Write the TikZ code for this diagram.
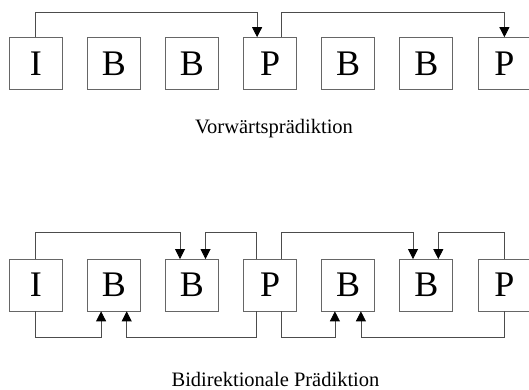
\documentclass[tikz,border=0pt]{standalone}
\usepackage{fontspec}
\setmainfont{Liberation Serif}
\usetikzlibrary{arrows.meta}
\tikzset{
  frame/.style={draw=black!60, line width=0.8pt, minimum width=53pt, minimum height=51.5pt,
    inner sep=0pt, font=\fontsize{36}{36}\selectfont, text=black},
  arr/.style={draw=black!70, line width=0.8pt, -{Triangle[length=10pt,width=10pt,fill=black,color=black]}},
  captext/.style={font=\fontsize{20.5}{22}\selectfont, text=black}
}
\begin{document}
\begin{tikzpicture}[x=1pt,y=-1pt]
\useasboundingbox[fill=white] (0,0) rectangle (529,390);
% levels
\coordinate (L1) at (0,12);
\coordinate (L2) at (0,232.7);
\coordinate (L3) at (0,337.6);
% boxes
\foreach \i/\t in {1/I,2/B,3/B,4/P,5/B,6/B,7/P}{
  \node[frame] (t\i) at ({35.8+78.1*(\i-1)},63.3) {\t};
  \node[frame] (b\i) at ({35.8+78.1*(\i-1)},285.2) {\t};
}
\node[captext] (c1) at (274,129) {Vorwärtsprädiktion};
\node[captext] (c2) at (275.5,379) {Bidirektionale Prädiktion};
% top connectors
\coordinate (t4a) at ([xshift=-13pt]t4.north);
\coordinate (t4b) at ([xshift=11.5pt]t4.north);
\draw[arr] (t1.north) -- (t1.north |- L1) -| (t4a);
\draw[arr] (t4b) -- (t4b |- L1) -| (t7.north);
% bottom connectors
\coordinate (b3a) at ([xshift=-12pt]b3.north);
\coordinate (b3b) at ([xshift=13.5pt]b3.north);
\coordinate (b4a) at ([xshift=-13.5pt]b4.north);
\coordinate (b4b) at ([xshift=11.5pt]b4.north);
\coordinate (b6a) at ([xshift=-13.3pt]b6.north);
\coordinate (b6b) at ([xshift=12pt]b6.north);
\draw[arr] (b1.north) -- (b1.north |- L2) -| (b3a);
\draw[arr] (b4a) -- (b4a |- L2) -| (b3b);
\draw[arr] (b4b) -- (b4b |- L2) -| (b6a);
\draw[arr] (b7.north) -- (b7.north |- L2) -| (b6b);
\coordinate (b2a) at ([xshift=-12.8pt]b2.south);
\coordinate (b2b) at ([xshift=12.8pt]b2.south);
\coordinate (b4c) at ([xshift=-13.5pt]b4.south);
\coordinate (b4d) at ([xshift=11.5pt]b4.south);
\coordinate (b5a) at ([xshift=-13.3pt]b5.south);
\coordinate (b5b) at ([xshift=12.7pt]b5.south);
\draw[arr] (b1.south) -- (b1.south |- L3) -| (b2a);
\draw[arr] (b4c) -- (b4c |- L3) -| (b2b);
\draw[arr] (b4d) -- (b4d |- L3) -| (b5a);
\draw[arr] (b7.south) -- (b7.south |- L3) -| (b5b);
\end{tikzpicture}
\end{document}
